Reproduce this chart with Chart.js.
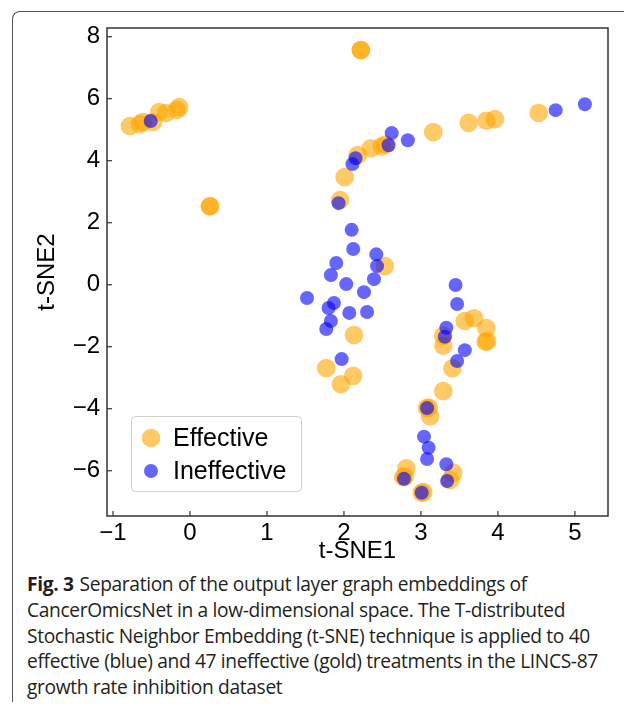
<!DOCTYPE html>
<html>
<head>
<meta charset="utf-8">
<script src="https://cdn.jsdelivr.net/npm/chart.js@4.4.0/dist/chart.umd.min.js"></script>
<style>
  html, body { margin: 0; padding: 0; background: #fff; }
  body { width: 624px; height: 715px; position: relative; overflow: hidden; }
  #frame {
    position: absolute; left: 12px; top: 11px; width: 640px; height: 690px;
    border-left: 1.5px solid #555; border-top: 1.5px solid #555;
    border-top-left-radius: 8px;
  }
  #chart { position: absolute; left: 0; top: 0; }
  #caption {
    position: absolute; left: 27px; top: 571px;
    font-family: "Open Sans", sans-serif; font-size: 19.2px; line-height: 25.8px;
    color: #231f20; white-space: nowrap; letter-spacing: -0.35px;
  }
  #caption b { font-weight: 700; margin-right: 6px; }
</style>
</head>
<body>
<div id="frame"></div>
<canvas id="chart" width="624" height="570"></canvas>
<div id="caption">
  <b>Fig. 3</b>Separation of the output layer graph embeddings of<br>
  CancerOmicsNet in a low-dimensional space. The T-distributed<br>
  Stochastic Neighbor Embedding (t-SNE) technique is applied to 40<br>
  effective (blue) and 47 ineffective (gold) treatments in the LINCS-87<br>
  growth rate inhibition dataset
</div>
<script>
// ------------------------------------------------------------
// 数据
// ------------------------------------------------------------

const seriesLabels = ['Effective', 'Ineffective'];

const effectiveX = [
  -0.78, -0.65, -0.61, -0.48, -0.40, -0.31, -0.17, -0.14,
  2.22, 2.22, 0.26, 0.26,
  3.16, 2.49, 2.54, 2.35, 2.18, 2.01, 1.95,
  3.62, 3.85, 3.96, 4.53,
  2.53, 2.13, 1.77, 2.12, 1.96,
  3.57, 3.69, 3.85, 3.84, 3.86, 3.29, 3.29, 3.41, 3.29, 3.08, 3.10, 3.12,
  2.81, 2.77, 2.79, 3.42, 3.38, 3.01, 3.03
];
const effectiveY = [
  5.12, 5.18, 5.25, 5.25, 5.57, 5.54, 5.64, 5.73,
  7.57, 7.57, 2.53, 2.53,
  4.92, 4.46, 4.52, 4.40, 4.18, 3.47, 2.73,
  5.22, 5.29, 5.34, 5.54,
  0.60, -1.62, -2.69, -2.94, -3.21,
  -1.17, -1.08, -1.40, -1.84, -1.82, -1.65, -1.97, -2.70, -3.43, -3.98, -3.96, -4.25,
  -5.92, -6.21, -6.19, -6.07, -6.30, -6.71, -6.69
];

const ineffectiveX = [
  -0.51,
  2.62, 2.83, 2.58, 2.15, 2.11, 1.93,
  4.75, 5.13,
  2.10, 2.12, 2.42, 2.43, 1.90, 1.83, 2.03, 2.39, 2.26, 1.52, 1.87, 1.80, 2.07, 2.30, 1.83, 1.77, 1.97,
  3.45, 3.47, 3.33, 3.31, 3.57, 3.47, 3.08,
  3.04, 3.10, 3.08, 3.33, 2.78, 3.34, 3.01
];
const ineffectiveY = [
  5.28,
  4.89, 4.66, 4.50, 4.08, 3.89, 2.63,
  5.63, 5.82,
  1.77, 1.15, 0.98, 0.60, 0.70, 0.31, 0.02, 0.18, -0.24, -0.43, -0.59, -0.75, -0.91, -0.88, -1.17, -1.43, -2.40,
  -0.01, -0.62, -1.39, -1.68, -2.11, -2.46, -3.98,
  -4.90, -5.26, -5.62, -5.79, -6.26, -6.33, -6.71
];

const xTicks = [-1, 0, 1, 2, 3, 4, 5];
const yTicks = [-6, -4, -2, 0, 2, 4, 6, 8];

// ------------------------------------------------------------
// 样式
// ------------------------------------------------------------

const FONT = 'Liberation Sans';
const COLOR_EFF = 'rgba(255, 165, 0, 0.6)';
const COLOR_INEFF = 'rgba(0, 0, 255, 0.6)';
const AXIS_COLOR = '#333';

function toPoints(xs, ys) {
  return xs.map((x, i) => ({ x: x, y: ys[i] }));
}

function fmt(v) {
  return v < 0 ? '\u2212' + Math.abs(v) : String(v);
}

// 坐标框、向内刻度、图例
const framePlugin = {
  id: 'framePlugin',
  afterDraw(chart) {
    const { ctx, chartArea: a, scales } = chart;
    ctx.save();
    ctx.strokeStyle = AXIS_COLOR;
    ctx.lineWidth = 1.5;
    ctx.strokeRect(a.left, a.top, a.right - a.left, a.bottom - a.top);

    ctx.lineWidth = 1.2;
    xTicks.forEach(v => {
      const p = scales.x.getPixelForValue(v);
      ctx.beginPath();
      ctx.moveTo(p, a.bottom);
      ctx.lineTo(p, a.bottom - 5);
      ctx.stroke();
    });
    yTicks.forEach(v => {
      const p = scales.y.getPixelForValue(v);
      ctx.beginPath();
      ctx.moveTo(a.left, p);
      ctx.lineTo(a.left + 5, p);
      ctx.stroke();
    });

    // 图例
    ctx.fillStyle = 'rgba(255,255,255,0.8)';
    ctx.strokeStyle = '#d0d0d0';
    ctx.lineWidth = 1;
    ctx.beginPath();
    ctx.roundRect(131.5, 416.5, 170, 75, 4);
    ctx.fill();
    ctx.stroke();

    const ds = chart.data.datasets;
    const rows = [438, 471];
    ctx.font = '25px "' + FONT + '"';
    ctx.textBaseline = 'middle';
    ds.forEach((d, i) => {
      ctx.fillStyle = d.backgroundColor;
      ctx.beginPath();
      ctx.arc(151, rows[i], d.pointRadius, 0, Math.PI * 2);
      ctx.fill();
      ctx.fillStyle = '#000';
      ctx.fillText(d.label, 173, rows[i] + 1);
    });
    ctx.restore();
  }
};

new Chart(document.getElementById('chart').getContext('2d'), {
  type: 'scatter',
  data: {
    datasets: [
      {
        label: seriesLabels[0],
        data: toPoints(effectiveX, effectiveY),
        backgroundColor: COLOR_EFF,
        borderWidth: 0,
        pointRadius: 9.3,
        order: 2
      },
      {
        label: seriesLabels[1],
        data: toPoints(ineffectiveX, ineffectiveY),
        backgroundColor: COLOR_INEFF,
        borderWidth: 0,
        pointRadius: 7,
        order: 1
      }
    ]
  },
  options: {
    responsive: false,
    animation: false,
    devicePixelRatio: 1,
    layout: { padding: { top: 28, right: 16, left: 0, bottom: 0 } },
    plugins: {
      legend: { display: false },
      tooltip: { enabled: false }
    },
    scales: {
      x: {
        type: 'linear',
        min: -1.078,
        max: 5.43,
        afterFit: s => { s.height = 54; },
        afterBuildTicks: s => { s.ticks = xTicks.map(v => ({ value: v })); },
        grid: { display: false, drawTicks: false },
        border: { display: false },
        ticks: {
          color: '#000',
          padding: 3,
          font: { family: FONT, size: 24 },
          callback: v => fmt(v)
        },
        title: {
          display: true,
          text: 't-SNE1',
          color: '#000',
          font: { family: FONT, size: 24 },
          padding: { top: 0, bottom: 4 }
        }
      },
      y: {
        type: 'linear',
        min: -7.46,
        max: 8.28,
        afterFit: s => { s.width = 107; },
        afterBuildTicks: s => { s.ticks = yTicks.map(v => ({ value: v })); },
        grid: { display: false, drawTicks: false },
        border: { display: false },
        ticks: {
          color: '#000',
          padding: 7,
          font: { family: FONT, size: 24 },
          callback: v => fmt(v)
        },
        title: {
          display: true,
          text: 't-SNE2',
          color: '#000',
          font: { family: FONT, size: 24 },
          padding: { top: 33, bottom: 0 }
        }
      }
    }
  },
  plugins: [framePlugin]
});
</script>
</body>
</html>
